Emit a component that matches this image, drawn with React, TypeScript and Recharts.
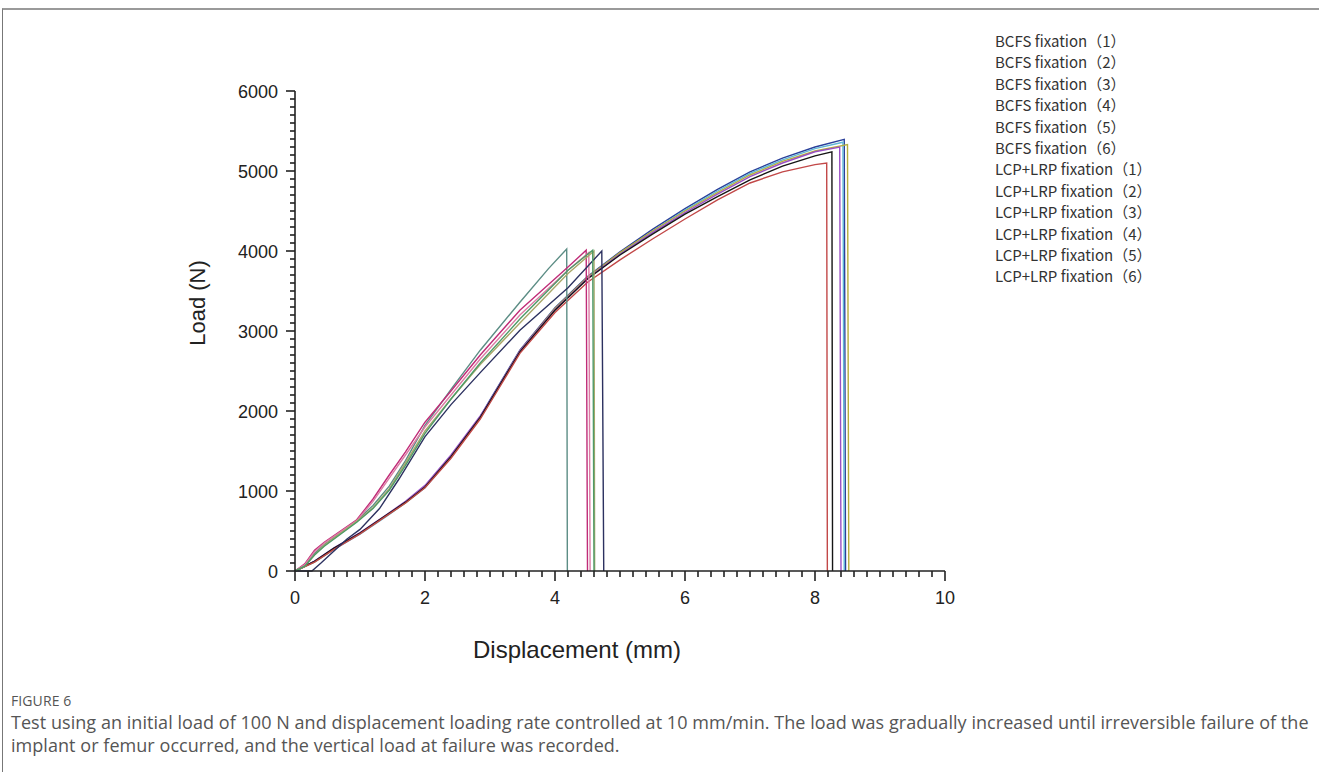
import React from 'react';
import { LineChart, Line, XAxis, YAxis, Legend } from 'recharts';

type Pt = [number, number];

// Displacement (mm), Load (N)
const bcfs1: Pt[] = [[0,0],[0.3,120],[0.6,280],[1.0,470],[1.4,690],[1.7,860],[2.0,1060],[2.4,1440],[2.85,1930],[3.0,2140],[3.46,2760],[4.0,3290],[4.5,3680],[5.0,3990],[5.5,4270],[6.0,4530],[6.5,4770],[7.0,4990],[7.5,5160],[8.0,5300],[8.45,5395],[8.47,0]];
const bcfs2: Pt[] = [[0,0],[0.3,110],[0.6,270],[1.0,460],[1.4,680],[1.7,850],[2.0,1040],[2.4,1420],[2.85,1910],[3.0,2110],[3.46,2740],[4.0,3270],[4.5,3660],[5.0,3970],[5.5,4250],[6.0,4510],[6.5,4750],[7.0,4970],[7.5,5140],[8.0,5280],[8.43,5360],[8.45,0]];
const bcfs3: Pt[] = [[0,0],[0.3,115],[0.6,275],[1.0,470],[1.4,690],[1.7,850],[2.0,1050],[2.4,1430],[2.85,1920],[3.0,2120],[3.46,2750],[4.0,3280],[4.5,3670],[5.0,3980],[5.5,4250],[6.0,4500],[6.5,4730],[7.0,4950],[7.5,5120],[8.0,5250],[8.5,5330],[8.52,0]];
const bcfs4: Pt[] = [[0,0],[0.3,125],[0.6,290],[1.0,480],[1.4,700],[1.7,870],[2.0,1070],[2.4,1450],[2.85,1940],[3.0,2130],[3.46,2750],[4.0,3270],[4.5,3660],[5.0,3960],[5.5,4230],[6.0,4480],[6.5,4710],[7.0,4930],[7.5,5100],[8.0,5240],[8.38,5300],[8.4,0]];
const bcfs5: Pt[] = [[0,0],[0.3,120],[0.6,285],[1.0,475],[1.4,695],[1.7,860],[2.0,1050],[2.4,1430],[2.85,1920],[3.0,2120],[3.46,2740],[4.0,3260],[4.5,3650],[5.0,3950],[5.5,4210],[6.0,4460],[6.5,4680],[7.0,4890],[7.5,5060],[8.0,5190],[8.26,5240],[8.27,0]];
const bcfs6: Pt[] = [[0,0],[0.3,110],[0.6,270],[1.0,465],[1.4,685],[1.7,850],[2.0,1040],[2.4,1410],[2.85,1900],[3.0,2100],[3.46,2720],[4.0,3230],[4.5,3610],[5.0,3890],[5.5,4150],[6.0,4400],[6.5,4640],[7.0,4850],[7.5,4990],[8.0,5080],[8.18,5100],[8.19,0]];

const lcp1: Pt[] = [[0,0],[0.15,70],[0.3,220],[0.45,330],[0.7,480],[0.95,630],[1.2,820],[1.45,1060],[1.7,1380],[2.0,1820],[2.4,2270],[2.85,2760],[3.46,3360],[3.9,3780],[4.18,4025],[4.19,0]];
const lcp2: Pt[] = [[0,0],[0.15,90],[0.3,260],[0.45,360],[0.7,500],[0.95,640],[1.2,900],[1.45,1200],[1.7,1490],[2.0,1860],[2.4,2250],[2.85,2700],[3.46,3260],[4.2,3800],[4.48,4010],[4.5,0]];
const lcp3: Pt[] = [[0,0],[0.15,80],[0.3,240],[0.45,350],[0.7,490],[0.95,630],[1.2,870],[1.45,1160],[1.7,1450],[2.0,1800],[2.4,2200],[2.85,2650],[3.46,3200],[4.2,3760],[4.52,3980],[4.54,0]];
const lcp4: Pt[] = [[0,0],[0.15,60],[0.3,200],[0.45,320],[0.7,470],[0.95,620],[1.2,790],[1.45,1030],[1.7,1350],[2.0,1750],[2.4,2150],[2.85,2580],[3.46,3100],[4.2,3720],[4.6,4000],[4.61,0]];
const lcp5: Pt[] = [[0,0],[0.26,0],[0.4,100],[0.6,250],[0.8,400],[1.0,520],[1.3,780],[1.6,1150],[2.0,1680],[2.4,2080],[2.85,2480],[3.46,3010],[4.2,3540],[4.72,4000],[4.75,0]];
const lcp6: Pt[] = [[0,0],[0.15,60],[0.3,200],[0.45,310],[0.7,460],[0.95,610],[1.2,780],[1.45,1010],[1.7,1320],[2.0,1720],[2.4,2150],[2.85,2600],[3.46,3150],[4.2,3760],[4.58,4010],[4.6,0]];

const legendLabels = [
  'BCFS fixation（1）', 'BCFS fixation（2）', 'BCFS fixation（3）',
  'BCFS fixation（4）', 'BCFS fixation（5）', 'BCFS fixation（6）',
  'LCP+LRP fixation（1）', 'LCP+LRP fixation（2）', 'LCP+LRP fixation（3）',
  'LCP+LRP fixation（4）', 'LCP+LRP fixation（5）', 'LCP+LRP fixation（6）',
];
const seriesData = [bcfs1, bcfs2, bcfs3, bcfs4, bcfs5, bcfs6, lcp1, lcp2, lcp3, lcp4, lcp5, lcp6];
const seriesColors = ['#2a3f9a', '#5fb6d6', '#b5ae3e', '#9a4fc4', '#151515', '#c24848', '#5c8d85', '#c02c78', '#dc7ca4', '#a9a86a', '#2c3160', '#4e9a68'];

const xMajorTicks = [0, 2, 4, 6, 8, 10];
const yMajorTicks = [0, 1000, 2000, 3000, 4000, 5000, 6000];
const xMinorStep = 0.2;
const yMinorStep = 100;

const buildTicks = (majors: number[], step: number) => {
  const max = majors[majors.length - 1];
  const n = Math.round(max / step);
  const out: number[] = [];
  for (let i = 0; i <= n; i++) out.push(Math.round(i * step * 1000) / 1000);
  return out;
};
const xTicks = buildTicks(xMajorTicks, xMinorStep);
const yTicks = buildTicks(yMajorTicks, yMinorStep);

const XTick = (props: any) => {
  const { x, y, payload } = props;
  const v = payload.value;
  const major = xMajorTicks.some((m) => Math.abs(m - v) < 1e-6);
  return (
    <g>
      <line x1={x} x2={x} y1={y} y2={y + (major ? 10 : 6)} stroke="#222" strokeWidth={1.6} />
      {major && (
        <text x={x} y={y + 33} textAnchor="middle" fontSize={18} fill="#222" fontFamily="Liberation Sans, Arial, sans-serif">
          {v}
        </text>
      )}
    </g>
  );
};

const YTick = (props: any) => {
  const { x, y, payload } = props;
  const v = payload.value;
  const major = yMajorTicks.some((m) => Math.abs(m - v) < 1e-6);
  return (
    <g>
      <line x1={x - (major ? 9 : 5)} x2={x} y1={y} y2={y} stroke="#222" strokeWidth={1.6} />
      {major && (
        <text x={x - 17} y={y + 6.5} textAnchor="end" fontSize={18} fill="#222" fontFamily="Liberation Sans, Arial, sans-serif">
          {v}
        </text>
      )}
    </g>
  );
};

const LegendContent = () => (
  <div style={{ fontFamily: '"Noto Sans CJK SC", "Noto Sans", sans-serif', fontSize: 15, color: '#333', lineHeight: '21.4px' }}>
    {legendLabels.map((l) => (
      <div key={l} style={{ whiteSpace: 'nowrap' }}>{l}</div>
    ))}
  </div>
);

export default function App() {
  return (
    <div style={{ position: 'absolute', left: 0, top: 0, width: 1319, height: 772, background: '#fff' }}>
      <div style={{ position: 'absolute', left: 2, top: 8, width: 1317, height: 764, borderTop: '2px solid #9a9a9a', borderLeft: '1px solid #777' }} />
      <div style={{ position: 'absolute', left: 0, top: 0 }}>
        <LineChart width={1319} height={690} margin={{ top: 91, right: 374, bottom: 59, left: 235 }}>
          <XAxis
            type="number"
            dataKey="x"
            domain={[0, 10]}
            ticks={xTicks}
            interval={0}
            tickSize={0}
            tickMargin={0}
            tickLine={false}
            tick={<XTick />}
            axisLine={{ stroke: '#222', strokeWidth: 1.6 }}
            height={60}
            allowDuplicatedCategory={false}
            label={{
              content: () => (
                <text x={577} y={658} textAnchor="middle" fontSize={24} fill="#222" fontFamily="Liberation Sans, Arial, sans-serif">
                  Displacement (mm)
                </text>
              ),
            }}
          />
          <YAxis
            type="number"
            dataKey="y"
            domain={[0, 6000]}
            ticks={yTicks}
            interval={0}
            tickSize={0}
            tickMargin={0}
            tickLine={false}
            tick={<YTick />}
            axisLine={{ stroke: '#222', strokeWidth: 1.6 }}
            width={60}
            label={{
              content: () => (
                <text x={205} y={303} transform="rotate(-90 205 303)" textAnchor="middle" fontSize={22} fill="#222" fontFamily="Liberation Sans, Arial, sans-serif">
                  Load (N)
                </text>
              ),
            }}
          />
          <Legend
            verticalAlign="middle"
            content={<LegendContent />}
            wrapperStyle={{ position: 'absolute', left: 995, top: 30, width: 220 }}
          />
          {seriesData.map((d, i) => (
            <Line
              key={legendLabels[i]}
              name={legendLabels[i]}
              data={d.map(([x, y]) => ({ x, y }))}
              dataKey="y"
              type="linear"
              stroke={seriesColors[i]}
              strokeWidth={1.4}
              dot={false}
              activeDot={false}
              isAnimationActive={false}
            />
          ))}
        </LineChart>
      </div>
      <div style={{ position: 'absolute', left: 11, top: 691, fontFamily: '"Open Sans", sans-serif', fontSize: 14, color: '#555', letterSpacing: 0.1 }}>
        FIGURE 6
      </div>
      <div style={{ position: 'absolute', left: 11, top: 711, fontFamily: '"Open Sans", sans-serif', fontSize: 18, color: '#555', lineHeight: '23px', whiteSpace: 'nowrap', letterSpacing: 0.05 }}>
        <div>Test using an initial load of 100 N and displacement loading rate controlled at 10 mm/min. The load was gradually increased until irreversible failure of the</div>
        <div>implant or femur occurred, and the vertical load at failure was recorded.</div>
      </div>
    </div>
  );
}
